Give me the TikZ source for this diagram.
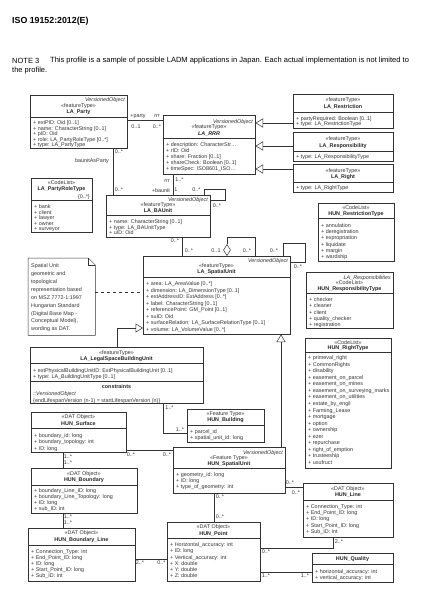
\documentclass[tikz,border=0pt]{standalone}
\usepackage{fontspec}
\setmainfont{Liberation Sans}
\usetikzlibrary{arrows.meta}
\newcommand{\umlfont}{\fontsize{5.4}{6}\selectfont}
\newcommand{\notefont}{\fontsize{7.5}{9}\selectfont}
\tikzset{
  classbox/.style={draw=black!80,line width=0.5pt,fill=white,inner sep=0pt,anchor=north west},
  divider/.style={draw=black!80,line width=0.5pt},
  stereo/.style={font=\umlfont,inner sep=0pt,text=black!80},
  cname/.style={font=\umlfont\bfseries,inner sep=0pt,text=black!85},
  vo/.style={font=\umlfont\itshape,inner sep=0pt,anchor=mid east,text=black!80},
  attr/.style={font=\umlfont,inner sep=0pt,anchor=mid west,text=black!80},
  mult/.style={font=\umlfont,inner sep=0pt,text=black!80},
  assoc/.style={draw=black!80,line width=0.5pt},
  genarrow/.style={assoc,-{Triangle[open,length=7.5pt,width=9pt]}},
  aggrarrow/.style={assoc,{Diamond[open,length=12pt,width=7.5pt]}-},
  notelink/.style={assoc,dashed}
}

\begin{document}
\begin{tikzpicture}[x=1pt,y=-1pt]
\useasboundingbox (0,0) rectangle (428,590);
\node[anchor=west,inner sep=0pt,font=\fontsize{8.8}{10}\selectfont\bfseries] (isohead) at (12,21) {ISO 19152:2012(E)};
\node[anchor=west,inner sep=0pt,font=\notefont] (note3) at (12,61) {NOTE 3};
\node[anchor=west,inner sep=0pt,font=\notefont] (note3a) at (50,61) {This profile is a sample of possible LADM applications in Japan. Each actual implementation is not limited to};
\node[anchor=west,inner sep=0pt,font=\notefont] (note3b) at (12,70.5) {the profile.};

% LA_Party
\node[classbox,minimum width=97pt,minimum height=53pt] (party) at (30,95) {};
\node[vo] (party-vo) at (125,99) {VersionedObject};
\node[stereo] (party-st) at (78.5,106) {«featureType»};
\node[cname] (party-nm) at (78.5,112) {LA\_Party};
\draw[divider] (30,117) -- (127,117);
\foreach \t [count=\i] in {{+ extPID: Oid [0..1]},{+ name: CharacterString [0..1]},{+ pID: Oid},{+ role: LA\_PartyRoleType [0..*]},{+ type: LA\_PartyType}}
  \node[attr] (party-a\i) at (33,{116.8+5.4*\i}) {\t};

% LA_RRR
\node[classbox,minimum width=92pt,minimum height=59pt] (rrr) at (163,115) {};
\node[vo] (rrr-vo) at (253,121) {VersionedObject};
\node[stereo] (rrr-st) at (209,127) {«featureType»};
\node[cname] (rrr-nm) at (209,133.5) {\itshape LA\_RRR};
\draw[divider] (163,138) -- (255,138);
\node[attr] (rrr-a1) at (166,143.5) {+ description: CharacterStr\ldots};
\node[attr] (rrr-a2) at (166,149.5) {+ rID: Oid};
\node[attr] (rrr-a3) at (166,155.5) {+ share: Fraction [0..1]};
\node[attr] (rrr-a4) at (166,161.5) {+ shareCheck: Boolean [0..1]};
\node[attr] (rrr-a5) at (166,167.5) {+ timeSpec: ISO8601\_ISO\ldots};

% LA_Restriction
\node[classbox,minimum width=100pt,minimum height=34pt] (restr) at (293,94) {};
\node[stereo] (restr-st) at (343,100.5) {«featureType»};
\node[cname] (restr-nm) at (343,107) {LA\_Restriction};
\draw[divider] (293,112) -- (393,112);
\node[attr] (restr-a1) at (296,117.5) {+ partyRequired: Boolean [0..1]};
\node[attr] (restr-a2) at (296,123) {+ type: LA\_RestrictionType};

% LA_Responsibility
\node[classbox,minimum width=100pt,minimum height=29pt] (resp) at (293,132) {};
\node[stereo] (resp-st) at (343,139.5) {«featureType»};
\node[cname] (resp-nm) at (343,146) {LA\_Responsibility};
\draw[divider] (293,151) -- (393,151);
\node[attr] (resp-a1) at (296,156) {+ type: LA\_ResponsibilityType};

% LA_Right
\node[classbox,minimum width=100pt,minimum height=28pt] (right) at (293,164) {};
\node[stereo] (right-st) at (343,171) {«featureType»};
\node[cname] (right-nm) at (343,177.5) {LA\_Right};
\draw[divider] (293,182) -- (393,182);
\node[attr] (right-a1) at (296,187) {+ type: LA\_RightType};

% HUN_RestrictionType
\node[classbox,minimum width=76pt,minimum height=58pt] (restrtype) at (318,203) {};
\node[stereo] (restrtype-st) at (356,208) {«CodeList»};
\node[cname] (restrtype-nm) at (356,214.5) {HUN\_RestrictionType};
\draw[divider] (318,218.5) -- (394,218.5);
\foreach \t [count=\i] in {annulation,deregistration,expropriation,liquidate,margin,wardship}
  \node[attr] (restrtype-a\i) at (321,{218.2+6.3*\i}) {+ \t};

% HUN_ResponsibilityType
\node[classbox,minimum width=87pt,minimum height=56pt] (resptype) at (306,272) {};
\node[vo] (resptype-vo) at (391,277) {LA\_Responsibilities};
\node[stereo] (resptype-st) at (349.5,283) {«CodeList»};
\node[cname] (resptype-nm) at (349.5,289.5) {HUN\_ResponsibilityType};
\draw[divider] (306,293.5) -- (393,293.5);
\foreach \t [count=\i] in {checker,cleaner,client,quality\_checker,registration}
  \node[attr] (resptype-a\i) at (309,{292.8+6.2*\i}) {+ \t};

% HUN_RightType
\node[classbox,minimum width=86pt,minimum height=130pt] (righttype) at (305,338) {};
\node[stereo] (righttype-st) at (348,342.5) {«CodeList»};
\node[cname] (righttype-nm) at (348,348.5) {HUN\_RightType};
\draw[divider] (305,352.5) -- (391,352.5);
\foreach \t [count=\i] in {primeval\_right,CommonRights,disability,easement\_on\_parcel,easement\_on\_mines,easement\_on\_surveying\_marks,easement\_on\_utilities,estate\_by\_engil,Farming\_Lease,mortgage,option,ownership,ezer,repurchase,right\_of\_emption,trusteeship,usufruct}
  \node[attr] (righttype-a\i) at (308,{350.5+6.55*\i}) {+ \t};

% LA_PartyRoleType
\node[classbox,minimum width=61pt,minimum height=54pt] (roletype) at (31,178) {};
\node[stereo] (roletype-st) at (61.5,182.5) {«CodeList»};
\node[cname] (roletype-nm) at (61.5,189) {LA\_PartyRoleType};
\node[attr,anchor=mid east] (roletype-m) at (90,195.5) {\{0..*\}};
\draw[divider] (31,200.5) -- (92,200.5);
\foreach \t [count=\i] in {bank,client,lawyer,owner,surveyor}
  \node[attr] (roletype-a\i) at (34,{200.8+5.5*\i}) {+ \t};

% LA_BAUnit
\node[classbox,minimum width=104pt,minimum height=42pt] (baunit) at (106,195) {};
\node[vo] (baunit-vo) at (208,199) {VersionedObject};
\node[stereo] (baunit-st) at (158,205) {«featureType»};
\node[cname] (baunit-nm) at (158,211) {LA\_BAUnit};
\draw[divider] (106,215.5) -- (210,215.5);
\foreach \t [count=\i] in {{+ name: CharacterString [0..1]},{+ type: LA\_BAUnitType},{+ uID: Oid}}
  \node[attr] (baunit-a\i) at (109,{215.3+5.6*\i}) {\t};

% LA_SpatialUnit
\node[classbox,minimum width=147pt,minimum height=78pt] (spatial) at (143,256) {};
\node[vo] (spatial-vo) at (288,260) {VersionedObject};
\node[stereo] (spatial-st) at (216.5,266.5) {«featureType»};
\node[cname] (spatial-nm) at (216.5,272.5) {LA\_SpatialUnit};
\draw[divider] (143,277) -- (290,277);
\foreach \t [count=\i] in {{+ area: LA\_AreaValue [0..*]},{+ dimension: LA\_DimensionType [0..1]},{+ extAddressID: ExtAddress [0..*]},{+ label: CharacterString [0..1]},{+ referencePoint: GM\_Point [0..1]},{+ suID: Oid},{+ surfaceRelation: LA\_SurfaceRelationType [0..1]},{+ volume: LA\_VolumeValue [0..*]}}
  \node[attr] (spatial-a\i) at (146,{276.5+6.5*\i}) {\t};

% note
\node[minimum width=67pt,minimum height=77pt,inner sep=0pt,anchor=north west] (note) at (28,258) {};
\draw[assoc] (note.north west) -- ([xshift=-7pt]note.north east) -- ([yshift=-7pt]note.north east) -- (note.south east) -- (note.south west) -- cycle;
\draw[assoc] ([xshift=-7pt]note.north east) -- ([xshift=-7pt,yshift=-7pt]note.north east) -- ([yshift=-7pt]note.north east);
\foreach \t [count=\i] in {{Spatial Unit},{geometric and},{topological},{representation based},{on MSZ 7772-1:1997},{Hungarian Standard},{{(Digital Base Map -}},{{Conceptual Model),}},{wording as DAT.}}
  \node[attr] (note-l\i) at (31,{257.1+7.9*\i}) {\t};

% LA_LegalSpaceBuildingUnit
\node[classbox,minimum width=173pt,minimum height=56pt] (legal) at (30,347) {};
\node[stereo] (legal-st) at (116.5,353) {«featureType»};
\node[cname] (legal-nm) at (116.5,359) {LA\_LegalSpaceBuildingUnit};
\draw[divider] (30,363.5) -- (203,363.5);
\node[attr] (legal-a1) at (33,369.5) {+ extPhysicalBuildingUnitID: ExtPhysicalBuildingUnit [0..1]};
\node[attr] (legal-a2) at (33,376) {+ type: LA\_BuildingUnitType [0..1]};
\draw[divider] (30,381) -- (203,381);
\node[cname] (legal-c) at (116.5,386.5) {constraints};
\node[attr] (legal-c1) at (33,393) {\itshape ::VersionedObject};
\node[attr] (legal-c2) at (33,399.5) {\{endLifespanVersion (n-1) = startLifespanVersion (n)\}};

% HUN_Surface
\node[classbox,minimum width=95pt,minimum height=40pt] (surface) at (31,412) {};
\node[stereo] (surface-st) at (78.5,417.5) {«DAT Object»};
\node[cname] (surface-nm) at (78.5,423.5) {HUN\_Surface};
\draw[divider] (31,428) -- (126,428);
\foreach \t [count=\i] in {{+ boundary\_id: long},{+ boundary\_topology: int},{+ ID: long}}
  \node[attr] (surface-a\i) at (34,{428+6.5*\i}) {\t};

% HUN_Building
\node[classbox,minimum width=77pt,minimum height=33pt] (building) at (187,409) {};
\node[stereo] (building-st) at (225.5,414.5) {«Feature Type»};
\node[cname] (building-nm) at (225.5,420.5) {HUN\_Building};
\draw[divider] (187,425.5) -- (264,425.5);
\node[attr] (building-a1) at (190,431) {+ parcel\_id};
\node[attr] (building-a2) at (190,437) {+ spatial\_unit\_id: long};

% HUN_Boundary
\node[classbox,minimum width=106pt,minimum height=45pt] (boundary) at (31,468) {};
\node[stereo] (boundary-st) at (84,474) {«DAT Object»};
\node[cname] (boundary-nm) at (84,480) {HUN\_Boundary};
\draw[divider] (31,485) -- (137,485);
\foreach \t [count=\i] in {{+ boundary\_Line\_ID: long},{+ boundary\_Line\_Topology: long},{+ ID: long},{+ sub\_ID: int}}
  \node[attr] (boundary-a\i) at (34,{484+6*\i}) {\t};

% HUN_SpatialUnit
\node[classbox,minimum width=112pt,minimum height=46pt] (hsu) at (173,447) {};
\node[vo] (hsu-vo) at (283,452) {VersionedObject};
\node[stereo] (hsu-st) at (229,458) {«Feature Type»};
\node[cname] (hsu-nm) at (229,464) {HUN\_SpatialUnit};
\draw[divider] (173,468.5) -- (285,468.5);
\foreach \t [count=\i] in {{+ geometry\_id: long},{+ ID: long},{+ type\_of\_geometry: int}}
  \node[attr] (hsu-a\i) at (176,{468+6*\i}) {\t};

% HUN_Boundary_Line
\node[classbox,minimum width=107pt,minimum height=53pt] (bline) at (28,528) {};
\node[stereo] (bline-st) at (81.5,533.5) {«DAT Object»};
\node[cname] (bline-nm) at (81.5,540) {HUN\_Boundary\_Line};
\draw[divider] (28,545) -- (135,545);
\foreach \t [count=\i] in {{+ Connection\_Type: int},{+ End\_Point\_ID: long},{+ ID: long},{+ Start\_Point\_ID: long},{+ Sub\_ID: int}}
  \node[attr] (bline-a\i) at (31,{544.3+6.2*\i}) {\t};

% HUN_Point
\node[classbox,minimum width=93pt,minimum height=59pt] (point) at (167,522) {};
\node[stereo] (point-st) at (213.5,527.5) {«DAT Object»};
\node[cname] (point-nm) at (213.5,533.5) {HUN\_Point};
\draw[divider] (167,538) -- (260,538);
\foreach \t [count=\i] in {{+ Horizontal\_accuracy: int},{+ ID: long},{+ Vertical\_accuracy: int},{+ X: double},{+ Y: double},{+ Z: double}}
  \node[attr] (point-a\i) at (170,{537.5+6.3*\i}) {\t};

% HUN_Line
\node[classbox,minimum width=90pt,minimum height=54pt] (line) at (303,483) {};
\node[stereo] (line-st) at (348,489) {«DAT Object»};
\node[cname] (line-nm) at (348,495) {HUN\_Line};
\draw[divider] (303,500) -- (393,500);
\foreach \t [count=\i] in {{+ Connection\_Type: int},{+ End\_Point\_ID: long},{+ ID: long},{+ Start\_Point\_ID: long},{+ Sub\_ID: int}}
  \node[attr] (line-a\i) at (306,{499.6+6.2*\i}) {\t};

% HUN_Quality
\node[classbox,minimum width=81pt,minimum height=29pt] (quality) at (312,553) {};
\node[cname] (quality-nm) at (352.5,559) {HUN\_Quality};
\draw[divider] (312,564.5) -- (393,564.5);
\node[attr] (quality-a1) at (315,570.5) {+ horizontal\_accuracy: int};
\node[attr] (quality-a2) at (315,576.5) {+ vertical\_accuracy: int};

% connectors
\draw[assoc] (party.east |- 0,120.5) -- (rrr.west |- 0,120.5);
\node[mult] (m-party) at (138,116) {+party};
\node[mult] (m-rrr1) at (157,116) {rrr};
\node[mult] (m-party01) at (136,126.5) {0..1};
\node[mult] (m-rrr0) at (157,126.5) {0..*};

\draw[assoc] (113,0 |- party.south) -- (113,0 |- baunit.north);
\node[mult] (m-pb1) at (119,152) {0..*};
\node[mult,anchor=mid east] (m-pb2) at (109,160) {baunitAsParty};
\node[mult] (m-pb3) at (119,190) {0..*};

\draw[assoc] (173,0 |- rrr.south) -- (173,0 |- baunit.north);
\node[mult,anchor=mid east] (m-rb1) at (170,179.5) {rrr};
\node[mult] (m-rb2) at (179.5,179.5) {1..*};
\node[mult,anchor=mid east] (m-rb3) at (170,189.5) {+baunit};
\node[mult] (m-rb4) at (176,189.5) {1};

\draw[assoc] (204,0 |- baunit.north) |- (225,189) |- (baunit.east |- 0,200);
\node[mult] (m-bb1) at (196.5,190) {0..*};
\node[mult] (m-bb2) at (217,206) {0..*};

\draw[assoc] (182,0 |- baunit.south) -- (182,0 |- spatial.north);
\node[mult] (m-bs1) at (175,241) {0..*};
\node[mult] (m-bs2) at (189,250.5) {0..*};

\draw[aggrarrow] (227,0 |- spatial.north) |- (255,237) -- (255,0 |- spatial.north);
\node[mult] (m-ag1) at (216,250.5) {0..1};
\node[mult] (m-ag2) at (247,250.5) {0..*};

\draw[assoc] (283,0 |- spatial.north) |- (305,243) |- (spatial.east |- 0,262);
\node[mult] (m-ss1) at (274,250.5) {0..*};
\node[mult] (m-ss2) at (298,267) {0..*};

\draw[notelink] (note.east |- 0,292) -- (spatial.west |- 0,292);
\draw[genarrow] (117,0 |- legal.north) |- (spatial.west |- 0,328);
\draw[genarrow] (281,0 |- hsu.north) -- (281,0 |- spatial.south);

\draw[genarrow] (restr.west |- 0,123) -- (rrr.east |- 0,123);
\draw[genarrow] (resp.west |- 0,146) -- (rrr.east |- 0,146);
\draw[genarrow] (right.west |- 0,169) -- (rrr.east |- 0,169);

\draw[assoc] (163,0 |- legal.south) |- (building.west |- 0,433);
\node[mult] (m-lb1) at (169.5,408) {1..*};
\node[mult] (m-lb2) at (180,429.5) {1..*};

\draw[assoc] (63,0 |- surface.south) -- (63,0 |- boundary.north);
\node[mult] (m-sb1) at (68,457) {1..*};
\node[mult] (m-sb2) at (68,463) {1..*};

\draw[assoc] (surface.east |- 0,450) -- (hsu.west |- 0,450);
\node[mult] (m-sh1) at (131,454.5) {0..*};
\node[mult] (m-sh2) at (167,454.5) {0..*};

\draw[assoc] (63,0 |- boundary.south) -- (63,0 |- bline.north);
\node[mult] (m-bl1) at (68,517) {1..*};
\node[mult] (m-bl2) at (68,523) {1..*};

\draw[assoc] (bline.east |- 0,559) -- (point.west |- 0,559);
\node[mult] (m-lp1) at (140,563) {2..*};
\node[mult] (m-lp2) at (161.5,563) {0..*};

\draw[assoc] (214,0 |- hsu.south) -- (214,0 |- point.north);
\node[mult] (m-hp1) at (220,497) {0..*};
\node[mult] (m-hp2) at (220,517) {0..*};

\draw[assoc] (hsu.east |- 0,487) -- (line.west |- 0,487);
\node[mult] (m-hl1) at (290,483) {0..*};
\node[mult] (m-hl2) at (296,492.5) {0..*};

\draw[assoc] (point.east |- 0,548) -| (333,0 |- line.south);
\node[mult] (m-pl1) at (266,552) {0..*};
\node[mult] (m-pl2) at (339,542) {2..*};

\draw[assoc] (point.east |- 0,572) -- (quality.west |- 0,572);
\node[mult] (m-pq1) at (266,576) {1..*};
\node[mult] (m-pq2) at (305,576) {1..*};
\end{tikzpicture}
\end{document}
